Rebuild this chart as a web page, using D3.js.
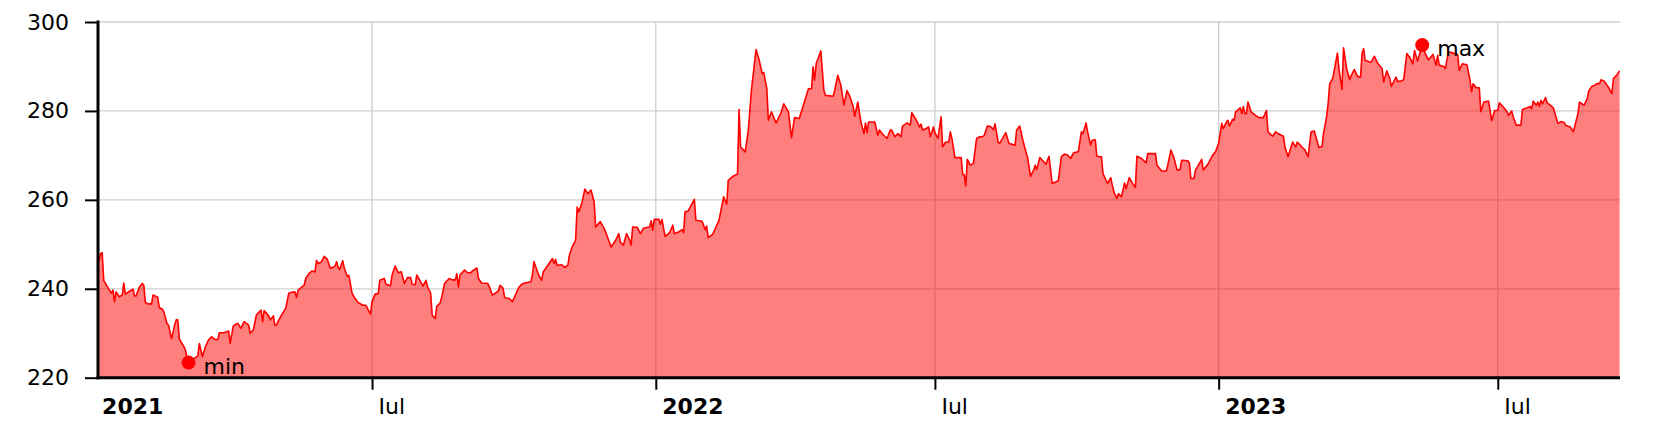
<!DOCTYPE html>
<html><head><meta charset="utf-8">
<script src="https://cdn.jsdelivr.net/npm/d3@7"></script>
<style>
body{margin:0;background:#fff}
svg{display:block}
text{font-family:"DejaVu Sans",Verdana,sans-serif;}
</style>
</head><body>
<svg id="chart" width="1660" height="440"></svg>
<script>
// Days counted from 2021-01-01
const startDate = "2021-01-01";
const dayOffsets = [
4,5,6,7,10,12,13,14,15,17,19,20,21,24,26,27,28,30,32,33,34,36,38,39,42,43,45,46,48,49,51,53,54,55,56,57,59,60,61,62,68,69,71,73,75,77,79,81,82,85,88,89,91,93,94,96,98,101,102,104,106,109,110,111,114,115,117,118,119,
120,123,125,127,129,131,132,133,137,138,140,142,144,145,146,148,150,152,154,156,157,158,159,160,162,163,165,166,168,170,172,175,177,178,180,181,183,185,186,189,190,193,194,196,198,200,202,204,206,207,209,210,212,214,216,217,219,220,222,223,225,226,228,231,233,235,236,237,238,241,243,245,246,249,250,252,256,257,259,261,263,264,266,267,270,272,274,
276,278,280,284,285,286,289,291,292,295,298,299,300,301,304,306,308,309,311,313,314,315,317,319,321,323,325,326,329,332,334,336,339,341,342,344,346,348,349,350,353,355,357,359,361,362,363,364,367,368,369,371,374,376,377,380,382,383,384,386,388,390,391,395,397,398,399,402,404,406,409,411,412,415,418,419,420,423,425,427,430,
432,434,435,437,438,440,442,443,446,448,451,453,455,458,461,464,466,467,468,469,472,474,475,480,481,483,485,487,489,491,493,494,496,498,500,501,502,503,507,509,510,512,515,517,518,520,522,524,525,528,530,531,534,536,537,538,540,542,543,544,545,546,548,550,551,553,555,556,557,559,563,564,565,566,567,569,571,573,575,577,578,580,582,584,585,587,
588,592,594,598,599,601,603,605,606,608,610,611,612,614,616,618,620,622,626,628,630,632,634,636,639,641,642,644,645,647,648,650,651,654,655,657,658,660,662,664,665,667,669,670,672,674,676,677,680,683,684,689,690,693,696,697,699,701,703,705,706,710,711,712,714,715,719,720,723,726,728,730,732,733,735,736,737,739,740,741,
744,745,746,747,748,749,751,754,756,759,761,762,765,767,769,772,773,775,776,778,780,781,784,786,788,789,790,792,794,795,797,798,800,801,802,804,807,808,810,811,813,815,816,818,820,822,823,824,825,828,829,831,833,836,837,839,841,842,844,845,846,848,850,852,854,856,857,859,862,864,866,869,871,872,
873,876,877,879,882,885,886,888,891,893,894,895,897,899,900,902,905,906,907,909,911,912,915,917,918,920,921,923,926,927,930,932,933,934,936,937,938,939,940,942,943,945,947,950,952,954,955,958,960,963,964,966,967,969,970,972,974,975,977,978,980,983,985,986,988,990
];
const values = [
246.4,247.9,248.1,241.9,240.1,239.0,239.7,237.1,239.3,238.2,238.6,241.3,238.8,239.5,239.9,238.4,238.4,240.3,241.2,240.8,236.9,236.6,236.6,238.6,238.1,235.8,235.4,234.8,232.2,231.8,228.8,231.8,233.0,233.0,228.8,228.1,227.0,226.2,224.6,223.4,224.9,227.7,224.7,227.0,228.5,229.2,228.6,228.6,230.1,230.1,230.5,227.7,231.6,232.1,232.2,231.1,232.6,231.8,230.0,230.7,234.1,235.2,232.6,235.1,233.9,233.0,233.9,231.8,231.8,
232.6,234.5,235.6,239.0,239.2,239.3,238.0,239.7,240.8,242.3,243.4,244.0,243.8,246.4,245.7,246.0,247.3,246.6,244.6,244.9,245.1,246.1,244.9,244.3,246.3,244.6,242.8,243.0,239.1,237.8,236.9,236.3,236.3,235.6,234.3,237.1,238.8,238.9,241.9,242.3,241.0,240.7,243.1,245.1,243.6,243.8,241.2,242.5,242.5,241.0,240.9,243.1,241.9,240.6,241.9,240.4,239.0,234.1,233.3,236.1,236.7,237.8,241.2,242.3,242.0,242.0,243.4,240.4,243.1,244.2,243.6,243.6,244.0,244.7,242.3,241.3,241.2,240.5,238.6,239.0,239.6,240.8,240.1,238.0,237.8,237.1,238.6,
240.2,241.0,241.3,241.6,243.1,246.1,243.1,241.9,243.8,245.3,246.8,245.7,246.6,245.3,245.4,244.8,245.3,247.6,249.6,250.9,258.4,257.3,259.2,262.4,261.4,262.2,259.6,253.9,255.1,253.2,251.3,249.4,250.9,252.4,250.5,249.8,252.4,251.0,249.8,253.9,253.8,252.4,253.6,253.8,253.9,255.3,253.2,255.6,255.6,254.5,255.6,251.8,252.6,254.3,252.4,252.8,253.3,252.6,257.3,257.5,258.8,260.1,255.4,255.2,253.3,254.1,251.5,252.3,253.9,255.4,260.7,259.0,264.4,265.3,265.8,280.3,271.9,270.8,275.7,284.6,293.8,
291.5,288.4,288.6,285.0,277.9,279.8,278.1,277.3,279.4,281.6,279.8,274.0,278.5,278.3,281.6,285.0,285.0,289.9,286.9,290.6,293.5,284.6,283.5,283.3,284.6,288.0,285.8,281.3,284.6,283.1,281.0,278.8,282.0,277.5,274.9,277.3,275.1,277.5,277.5,274.5,275.7,274.8,273.8,275.7,275.7,274.2,274.9,274.2,276.6,277.3,276.8,279.6,277.9,276.4,277.0,275.7,276.0,276.4,274.2,275.1,276.4,275.1,273.8,278.7,271.9,273.0,273.0,275.3,273.8,269.5,269.5,265.8,265.6,263.1,269.1,267.8,268.2,273.8,274.2,274.2,274.5,276.6,276.5,275.8,277.1,273.0,
272.7,275.1,272.7,272.3,275.7,276.6,273.4,270.8,269.7,265.3,266.7,267.8,266.8,269.5,268.8,268.0,269.8,263.7,264.3,269.7,270.3,270.1,269.3,270.6,270.8,275.3,274.9,277.3,275.3,272.3,273.4,273.5,269.8,269.7,265.9,264.4,263.7,265.0,261.8,260.3,261.4,260.7,263.8,262.5,265.0,263.8,262.8,269.8,269.3,268.3,270.4,270.4,267.8,266.5,266.5,267.8,271.2,269.5,266.7,266.8,268.9,268.8,268.3,264.8,264.8,266.7,269.1,266.7,268.0,270.0,270.8,272.7,277.2,276.0,277.5,277.9,276.6,278.1,277.9,279.8,
280.7,279.4,281.0,279.4,279.4,282.0,279.8,279.0,278.5,278.5,280.1,275.3,274.3,275.3,274.8,274.3,271.9,269.7,270.8,273.0,271.9,273.0,271.9,271.2,269.7,272.7,275.3,275.5,273.0,271.8,272.0,274.9,278.7,281.6,286.1,287.3,293.0,289.5,284.8,294.2,289.5,287.0,288.0,289.3,287.8,287.6,292.9,294.0,291.4,291.0,291.0,292.3,290.8,289.5,286.5,289.0,287.3,285.5,286.9,287.6,286.6,286.7,287.0,292.9,292.0,290.6,293.6,291.2,294.8,292.9,291.5,292.7,290.3,292.5,
290.3,290.0,289.5,293.3,293.0,292.7,289.1,290.6,290.4,286.9,284.3,286.1,285.2,285.2,279.8,282.0,282.2,280.1,277.8,280.1,280.1,281.8,280.7,279.8,279.0,280.0,278.7,276.8,276.8,280.3,280.7,281.0,280.5,282.2,281.3,282.0,281.0,282.4,281.6,283.0,281.8,281.3,280.7,277.2,277.6,277.4,276.8,276.4,275.3,279.4,282.0,281.5,281.3,282.8,284.5,285.5,285.8,286.1,286.2,287.0,286.7,285.2,283.9,287.3,288.0,289.0
];
const yTicks = [220, 240, 260, 280, 300];
const xTickDates = ["2021-07-01", "2022-01-01", "2022-07-01", "2023-01-01", "2023-07-01"];
const xTickLabels = ["Iul", "2022", "Iul", "2023", "Iul"];
const xTickBold = [false, true, false, true, false];
const firstLabel = "2021";

const FONT = 22;
const parse = d3.timeParse("%Y-%m-%d");
const base = parse(startDate);
const n = Math.min(dayOffsets.length, values.length);
const data = d3.range(n).map(i => ({date: d3.timeDay.offset(base, dayOffsets[i]), value: values[i]}));
const tickDates = xTickDates.map(parse);

const svg = d3.select("#chart");
const plotLeft = 98, plotRight = 1620, plotTop = 22, plotBottom = 377.7;

const x = d3.scaleTime()
  .domain([data[0].date, data[data.length - 1].date])
  .range([99.1, 1619.6]);
const y = d3.scaleLinear().domain([220, 300]).range([plotBottom, plotTop]);

// grid
const grid = svg.append("g");
grid.selectAll("line.h").data(yTicks.filter(v => v !== 220)).join("line")
  .attr("x1", plotLeft).attr("x2", plotRight)
  .attr("y1", d => y(d)).attr("y2", d => y(d))
  .attr("stroke", "#d0d0d0").attr("stroke-width", 1.3);
grid.selectAll("line.v").data(tickDates).join("line")
  .attr("x1", d => x(d)).attr("x2", d => x(d))
  .attr("y1", plotTop).attr("y2", plotBottom)
  .attr("stroke", "#cdcdcd").attr("stroke-width", 1.3);

// area + line
const area = d3.area().x(d => x(d.date)).y0(plotBottom).y1(d => y(d.value));
const line = d3.line().x(d => x(d.date)).y(d => y(d.value));
svg.append("path").datum(data).attr("d", area).attr("fill", "rgba(255,0,0,0.5)");
svg.append("path").datum(data).attr("d", line).attr("fill", "none")
  .attr("stroke", "#ff0000").attr("stroke-width", 1.6).attr("stroke-linejoin", "round");

// y axis
const yAxis = svg.append("g").attr("transform", `translate(${plotLeft},0)`)
  .call(d3.axisLeft(y).tickValues(yTicks).tickSize(13).tickPadding(16).tickSizeOuter(0));
yAxis.select(".domain").remove();
yAxis.selectAll(".tick line").attr("stroke", "#000").attr("stroke-width", 2);
yAxis.selectAll(".tick text").attr("font-size", FONT).attr("fill", "#000")
  .style("font-family", '"DejaVu Sans", Verdana, sans-serif');

// x axis
const xAxis = svg.append("g").attr("transform", `translate(0,${plotBottom})`)
  .call(d3.axisBottom(x).tickValues(tickDates).tickSize(12).tickPadding(9).tickSizeOuter(0)
    .tickFormat((d, i) => xTickLabels[i]));
xAxis.select(".domain").remove();
xAxis.selectAll(".tick line").attr("stroke", "#000").attr("stroke-width", 2);
xAxis.selectAll(".tick text").attr("font-size", FONT).attr("fill", "#000")
  .attr("text-anchor", "start").attr("x", 6)
  .attr("font-weight", (d, i) => xTickBold[i] ? "bold" : "normal")
  .style("font-family", '"DejaVu Sans", Verdana, sans-serif');
xAxis.append("text").attr("x", x(data[0].date) + 3).attr("y", 36.6)
  .attr("font-size", FONT).attr("font-weight", "bold").attr("fill", "#000")
  .attr("text-anchor", "start").text(firstLabel);

// axis lines
svg.append("line").attr("x1", 96.5).attr("x2", plotRight).attr("y1", plotBottom).attr("y2", plotBottom)
  .attr("stroke", "#000").attr("stroke-width", 3);
svg.append("line").attr("x1", plotLeft).attr("x2", plotLeft).attr("y1", 20.5).attr("y2", plotBottom + 1.5)
  .attr("stroke", "#000").attr("stroke-width", 3);

// min / max markers
const iMin = d3.minIndex(data, d => d.value);
const iMax = d3.maxIndex(data, d => d.value);
[[iMin, "min"], [iMax, "max"]].forEach(([i, label]) => {
  const cx = x(data[i].date), cy = y(data[i].value);
  svg.append("circle").attr("cx", cx).attr("cy", cy).attr("r", 7).attr("fill", "#ff0000");
  svg.append("text").attr("x", cx + 15).attr("y", cy + 11).attr("font-size", FONT)
    .attr("fill", "#000").text(label);
});

if (dayOffsets.length !== values.length) {
  throw new Error("length mismatch " + dayOffsets.length + " vs " + values.length);
}
</script>
</body></html>
